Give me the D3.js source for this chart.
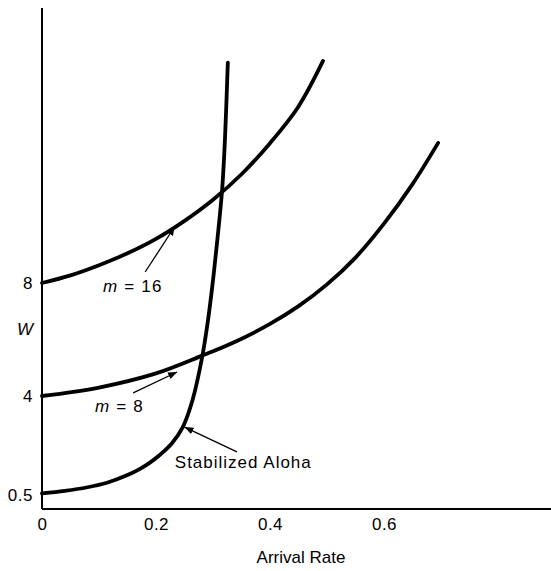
<!DOCTYPE html>
<html lang="en">
<head>
<meta charset="UTF-8">
<title>Stabilized Aloha vs TDM</title>
<script src="https://d3js.org/d3.v7.min.js"></script>
<style>
    body { margin: 0; background: #fff; }
    svg { display: block; }
    text { font-family: 'Liberation Sans', Arial, sans-serif; font-size: 17px; fill: #000; }
    .axis path { stroke: #000; stroke-width: 2; }
    .axis text { font-size: 17px; letter-spacing: 0.5px; }
    .curve { fill: none; stroke: #000; stroke-width: 3.8; stroke-linecap: round; }
    .pointer { stroke: #000; stroke-width: 1.3; }
</style>
</head>
<body>
<svg id="chart"></svg>
<script>
// values
var xTicks = [0, 0.2, 0.4, 0.6];
var xTickLabels = ["0", "0.2", "0.4", "0.6"];
var yTicks = [0.5, 4, 8];
var yTickLabels = ["0.5", "4", "8"];

var alohaRate = [0, 0.04, 0.08, 0.114, 0.15, 0.172, 0.19, 0.207, 0.228, 0.247, 0.264, 0.281, 0.291, 0.300, 0.308, 0.316, 0.321, 0.326];
var alohaW    = [0.55, 0.64, 0.77, 0.93, 1.2, 1.42, 1.65, 1.92, 2.33, 2.9, 3.85, 5.38, 6.65, 8.1, 9.6, 11.3, 13.1, 15.8];

var m8Rate = [0, 0.1, 0.2, 0.28, 0.34, 0.4, 0.45, 0.5, 0.55, 0.6, 0.65, 0.695];
var m8W    = [4.0, 4.3, 4.8, 5.42, 5.93, 6.55, 7.18, 7.95, 8.9, 10.1, 11.5, 12.96];

var m16Rate = [0, 0.05, 0.1, 0.15, 0.2, 0.25, 0.3, 0.35, 0.4, 0.45, 0.493];
var m16W    = [8.0, 8.27, 8.63, 9.05, 9.56, 10.2, 10.95, 11.85, 12.95, 14.25, 15.86];

// labels with their pointer arrows (data units)
var labelNames = ["m16", "m8", "aloha"];
var labelAt = [[0.107, 7.68], [0.093, 3.43], [0.233, 1.45]];
var arrowFrom = [[0.181, 8.39], [0.160, 4.11], [0.342, 2.02]];
var arrowTo = [[0.233, 10.0], [0.237, 4.85], [0.250, 2.9]];

var width = 551, height = 571;

var x = d3.scaleLinear().domain([0, 0.6]).range([42, 384]);
var y = d3.scaleLinear().domain([0, 8]).range([509, 283]);

var svg = d3.select("#chart")
    .attr("width", width)
    .attr("height", height);

svg.append("defs").append("marker")
    .attr("id", "head")
    .attr("viewBox", "0 0 10 10")
    .attr("refX", 10).attr("refY", 5)
    .attr("markerWidth", 9).attr("markerHeight", 9)
    .attr("markerUnits", "userSpaceOnUse")
    .attr("orient", "auto")
    .append("path")
    .attr("d", "M0,1 L10,5 L0,9 Z")
    .attr("fill", "#000");

// axes
var xAxis = svg.append("g")
    .attr("class", "axis")
    .attr("transform", "translate(0," + y(0) + ")")
    .call(d3.axisBottom(x)
        .tickValues(xTicks)
        .tickSize(0)
        .tickPadding(9)
        .tickFormat(function (d, i) { return xTickLabels[i]; }));
xAxis.select(".domain").attr("d", "M" + x(0) + ",0H" + width);

var yAxis = svg.append("g")
    .attr("class", "axis")
    .attr("transform", "translate(" + x(0) + ",0)")
    .call(d3.axisLeft(y)
        .tickValues(yTicks)
        .tickSize(0)
        .tickPadding(9)
        .tickFormat(function (d, i) { return yTickLabels[i]; }));
yAxis.select(".domain").attr("d", "M0," + y(0) + "V8");

svg.selectAll(".axis text").attr("font-family", null).attr("font-size", null);

svg.append("text")
    .attr("x", 301)
    .attr("y", 563)
    .attr("text-anchor", "middle")
    .text("Arrival Rate");

svg.append("text")
    .attr("x", 25)
    .attr("y", 335)
    .attr("text-anchor", "middle")
    .style("font-style", "italic")
    .text("W");

// curves
var line = d3.line()
    .x(function (d) { return x(d[0]); })
    .y(function (d) { return y(d[1]); })
    .curve(d3.curveCatmullRom.alpha(0.5));

var series = [
    d3.zip(alohaRate, alohaW),
    d3.zip(m8Rate, m8W),
    d3.zip(m16Rate, m16W)
];

svg.selectAll(".curve")
    .data(series)
    .enter().append("path")
    .attr("class", "curve")
    .attr("d", line);

// pointer arrows
svg.selectAll(".pointer")
    .data(labelNames)
    .enter().append("line")
    .attr("class", "pointer")
    .attr("x1", function (d, i) { return x(arrowFrom[i][0]); })
    .attr("y1", function (d, i) { return y(arrowFrom[i][1]); })
    .attr("x2", function (d, i) { return x(arrowTo[i][0]); })
    .attr("y2", function (d, i) { return y(arrowTo[i][1]); })
    .attr("marker-end", "url(#head)");

// labels
function mLabel(i, num) {
    var t = svg.append("text")
        .attr("x", x(labelAt[i][0]))
        .attr("y", y(labelAt[i][1]))
        .style("letter-spacing", "1.2px");
    t.append("tspan").style("font-style", "italic").text("m");
    t.append("tspan").text(" = " + num);
}
mLabel(0, "16");
mLabel(1, "8");

svg.append("text")
    .attr("x", x(labelAt[2][0]))
    .attr("y", y(labelAt[2][1]))
    .style("letter-spacing", "1px")
    .text("Stabilized Aloha");
</script>
</body>
</html>
